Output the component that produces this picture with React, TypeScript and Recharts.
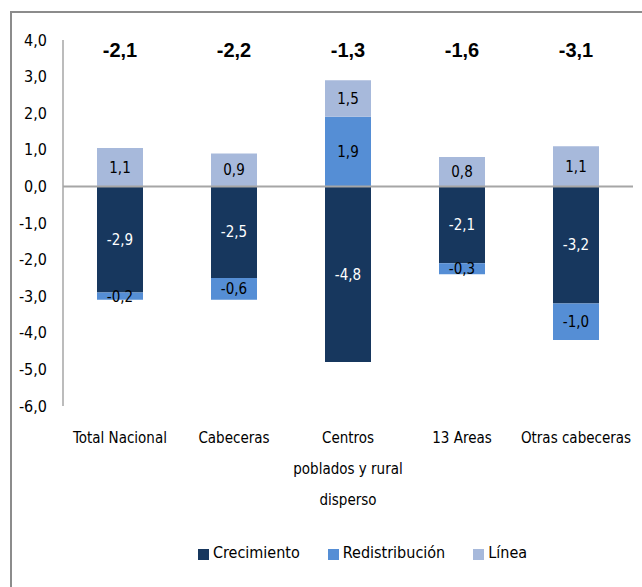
import { BarChart, Bar, Line, XAxis, YAxis, Legend, LabelList, ReferenceLine } from "recharts";

const categories = [
  "Total Nacional",
  "Cabeceras",
  "Centros poblados y rural disperso",
  "13 Areas",
  "Otras cabeceras",
];
// wrapped tick labels, as in the picture
const tickLines = [
  ["Total Nacional"],
  ["Cabeceras"],
  ["Centros", "poblados y rural", "disperso"],
  ["13 Areas"],
  ["Otras cabeceras"],
];
const crecimiento = [-2.9, -2.5, -4.8, -2.1, -3.2];
const redistribucion = [-0.2, -0.6, 1.9, -0.3, -1.0];
// drawn heights of the Línea segments (Centros is drawn shorter than its label)
const linea = [1.05, 0.9, 1.0, 0.8, 1.1];
const lineaLabels = ["1,1", "0,9", "1,5", "0,8", "1,1"];
const totals = [-2.1, -2.2, -1.3, -1.6, -3.1];
const yTicks = [4, 3, 2, 1, 0, -1, -2, -3, -4, -5, -6];
const legendOrder = ["Crecimiento", "Redistribución", "Línea"];

const NARROW = "'DejaVu Sans Condensed', 'Liberation Sans Narrow', sans-serif";
const BOLD = "'Liberation Sans', Arial, sans-serif";
const FS = 15;

const C_CREC = "#17375e";
const C_REDIS = "#558ed5";
const C_LINEA = "#a7b9db";

const fmt = (v: number) => v.toFixed(1).replace(".", ",");

const data = categories.map((name, i) => ({
  name,
  crecimiento: crecimiento[i],
  redistribucion: redistribucion[i],
  linea: linea[i],
  lineaLabel: lineaLabels[i],
  total: totals[i],
}));

const CategoryTick = (props: any) => {
  const { x, y, payload } = props;
  const lines = tickLines[payload.index] ?? [payload.value];
  return (
    <text x={x} y={y + 29} textAnchor="middle" fill="#000" fontSize={FS} fontFamily={NARROW}>
      {lines.map((l: string, k: number) => (
        <tspan key={k} x={x} dy={k === 0 ? 0 : 31}>
          {l}
        </tspan>
      ))}
    </text>
  );
};

const TotalLabel = (props: any) => {
  const { x, value } = props;
  return (
    <text x={x} y={57} textAnchor="middle" fill="#000" fontSize={20} fontWeight={700} fontFamily={BOLD}>
      {fmt(value)}
    </text>
  );
};

export default function App() {
  return (
    <div style={{ position: "absolute", left: 0, top: 0, width: 642, height: 587, background: "#fff" }}>
      <div
        style={{
          position: "absolute",
          left: 10,
          top: 11,
          right: 0,
          bottom: 0,
          borderTop: "2px solid #8c8c8c",
          borderLeft: "2px solid #8c8c8c",
        }}
      />
      <div style={{ position: "absolute", left: 0, top: 0 }}>
        <BarChart
          width={642}
          height={587}
          data={data}
          stackOffset="sign"
          barSize={46}
          margin={{ top: 40, right: 9, left: 0, bottom: 14 }}
        >
          <XAxis
            dataKey="name"
            axisLine={false}
            tickLine={false}
            interval={0}
            height={137}
            tick={<CategoryTick />}
          />
          <YAxis
            width={63}
            domain={[-6, 4]}
            ticks={yTicks}
            interval={0}
            tickFormatter={fmt}
            tickLine={false}
            tickMargin={10}
            axisLine={{ stroke: "#a6a6a6", strokeWidth: 1.5 }}
            tick={{ fill: "#000", fontSize: FS + 1, fontFamily: NARROW }}
          />
          <Bar dataKey="crecimiento" name="Crecimiento" stackId="a" fill={C_CREC} isAnimationActive={false}>
            <LabelList dataKey="crecimiento" position="center" formatter={(v: any) => fmt(Number(v))} fill="#fff" fontSize={FS} fontFamily={NARROW} />
          </Bar>
          <Bar dataKey="redistribucion" name="Redistribución" stackId="a" fill={C_REDIS} isAnimationActive={false}>
            <LabelList dataKey="redistribucion" position="center" formatter={(v: any) => fmt(Number(v))} fill="#000" fontSize={FS} fontFamily={NARROW} />
          </Bar>
          <Bar dataKey="linea" name="Línea" stackId="a" fill={C_LINEA} isAnimationActive={false}>
            <LabelList dataKey="lineaLabel" position="center" fill="#000" fontSize={FS} fontFamily={NARROW} />
          </Bar>
          <Line
            dataKey="total"
            stroke="none"
            dot={false}
            activeDot={false}
            legendType="none"
            isAnimationActive={false}
          >
            <LabelList dataKey="total" content={<TotalLabel />} />
          </Line>
          <ReferenceLine y={0} stroke="#a6a6a6" strokeWidth={2} />
          <Legend
            verticalAlign="bottom"
            align="center"
            height={30}
            iconType="square"
            iconSize={11}
            wrapperStyle={{ paddingLeft: 60 }}
            itemSorter={(item: any) => legendOrder.indexOf(item.value)}
            formatter={(value: any) => (
              <span style={{ color: "#000", fontSize: FS + 1, fontFamily: NARROW, marginRight: 18 }}>{value}</span>
            )}
          />
        </BarChart>
      </div>
    </div>
  );
}
